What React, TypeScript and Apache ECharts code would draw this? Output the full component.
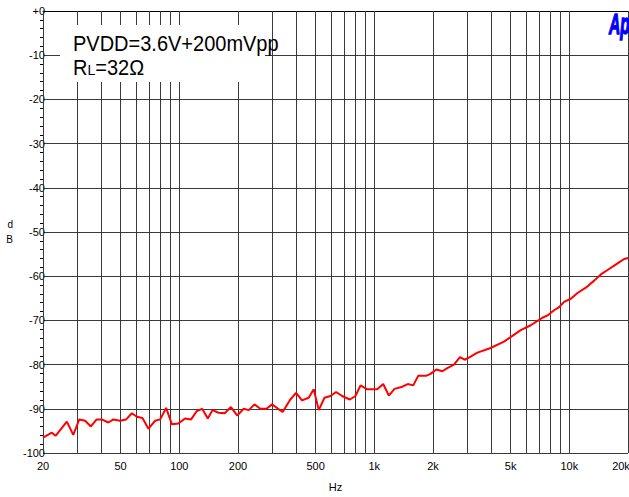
import React, { useEffect, useRef } from "react";
import * as echarts from "echarts";

const freqHz = [
  20, 22.2, 23.2, 26.5, 28.6, 30.7, 32.9, 35.2, 37.7, 40, 43.3, 45.9, 49.7, 53.4, 57.1, 60.6, 64.7, 69.5, 75.2, 79.8, 85.6, 91.6, 99.1,
  107, 115, 123, 131, 140, 148, 159, 171, 184, 198, 214, 227, 243, 260, 280, 299, 321, 339, 371, 397, 426, 461, 489, 519, 555, 596,
  637, 684, 749, 801, 850, 920, 1035, 1111, 1187, 1270, 1391, 1486, 1584, 1681, 1854, 1943, 2080, 2232, 2368, 2560, 2749, 2906, 3120,
  3378, 3920, 4625, 5110, 5636, 6342, 6998, 7286, 7784, 8356, 8864, 9404, 10178, 11020, 12156, 13412, 14515, 15712, 16988, 18386, 19120, 20000,
];
const levelDb = [
  -96.5, -95.4, -96.1, -92.9, -95.9, -92.4, -92.7, -94.0, -92.4, -92.4, -93.1, -92.4, -92.7, -92.4, -91.0, -91.8, -92.1, -94.5, -92.7, -92.4, -89.8, -93.5, -93.3,
  -92.2, -92.4, -90.5, -90.0, -92.2, -90.3, -90.9, -91.0, -89.6, -91.5, -90.0, -90.3, -89.0, -90.0, -90.0, -89.0, -90.0, -90.7, -87.9, -86.4, -88.1, -87.5, -85.6, -90.3, -87.5, -87.1,
  -86.2, -87.1, -87.9, -87.1, -84.7, -85.6, -85.6, -84.4, -87.0, -85.5, -85.0, -84.4, -84.7, -82.5, -82.5, -82.1, -81.1, -81.5, -80.8, -80.0, -78.3, -78.9, -78.2,
  -77.3, -76.3, -74.8, -73.5, -72.2, -71.1, -69.9, -69.4, -68.8, -67.7, -67.0, -65.8, -65.1, -63.8, -62.6, -61.0, -59.6, -58.6, -57.6, -56.6, -56.1, -55.9,
];
const gridFreqs = [
  20, 30, 40, 50, 60, 70, 80, 90, 100, 200, 300, 400, 500, 600, 700, 800, 900, 1000,
  2000, 3000, 4000, 5000, 6000, 7000, 8000, 9000, 10000, 20000,
];
const xTickValues = [20, 50, 100, 200, 500, 1000, 2000, 5000, 10000, 20000];
const xTickLabels = ["20", "50", "100", "200", "500", "1k", "2k", "5k", "10k", "20k"];
const legendLine1 = "PVDD=3.6V+200mVpp";
const legendLine2 = ["R", "L", "=32Ω"];

export default function App() {
  const ref = useRef<HTMLDivElement>(null);
  useEffect(() => {
    if (!ref.current) return;
    const chart = echarts.init(ref.current, null, { renderer: "svg" });
    const font = "'Liberation Sans', Arial, sans-serif";
    const lastFreq = gridFreqs[gridFreqs.length - 1];
    const markData = gridFreqs.map((f) => {
      const idx = xTickValues.indexOf(f);
      return {
        xAxis: f,
        label: idx >= 0
          ? {
              show: true,
              formatter: xTickLabels[idx],
              padding: f === lastFreq ? [0, 14, 0, 0] : 0,
            }
          : { show: false },
      };
    });
    chart.setOption({
      animation: false,
      backgroundColor: "#ffffff",
      textStyle: { fontFamily: font },
      grid: { left: 43, top: 11, right: 1, bottom: 40, containLabel: false },
      xAxis: {
        type: "log",
        logBase: 10,
        min: 20,
        max: 20000,
        name: "Hz",
        nameLocation: "middle",
        nameGap: 28,
        nameTextStyle: { fontSize: 11, color: "#000", fontFamily: font },
        axisLine: { show: true, lineStyle: { color: "#000", width: 1 } },
        axisTick: { show: false },
        axisLabel: { show: false },
        splitLine: { show: false },
        minorSplitLine: { show: false },
      },
      yAxis: {
        type: "value",
        min: -100,
        max: 0,
        interval: 10,
        name: "d\nB",
        nameLocation: "middle",
        nameRotate: 0,
        nameGap: 30,
        nameTextStyle: { fontSize: 10, color: "#000", lineHeight: 15, fontFamily: font },
        axisLine: { show: true, lineStyle: { color: "#000", width: 1 } },
        axisTick: { show: false },
        minorTick: { show: true, splitNumber: 5, length: 3, lineStyle: { color: "#000" } },
        axisLabel: {
          margin: -2,
          fontSize: 11,
          color: "#000",
          fontFamily: font,
          formatter: (v: number) => (v === 0 ? "+0" : String(v)),
        },
        splitLine: { show: true, lineStyle: { color: "#3a3a3a", width: 1 } },
      },
      series: [
        {
          type: "line",
          data: freqHz.map((f, i) => [f, levelDb[i]]),
          showSymbol: false,
          symbol: "none",
          lineStyle: { color: "#ff0000", width: 2 },
          z: 5,
          markLine: {
            silent: true,
            symbol: "none",
            animation: false,
            lineStyle: { color: "#3a3a3a", width: 1, type: "solid" },
            label: {
              position: "start",
              distance: 7,
              fontSize: 11,
              color: "#000",
              fontFamily: font,
            },
            emphasis: { disabled: true },
            data: markData,
          },
        },
      ],
      graphic: [
        {
          type: "rect",
          z: 100,
          shape: { x: 60, y: 25, width: 205, height: 57 },
          style: { fill: "#ffffff" },
        },
        {
          type: "text",
          z: 101,
          x: 73,
          y: 29.5,
          scaleY: 1.1,
          style: {
            text: `{a|${legendLine1}}\n{a|${legendLine2[0]}}{b|${legendLine2[1]}}{a|${legendLine2[2]}}`,
            fill: "#000",
            verticalAlign: "top",
            rich: {
              a: { fontSize: 20, lineHeight: 22, fontFamily: font, fill: "#000", verticalAlign: "bottom" },
              b: { fontSize: 14, lineHeight: 22, fontFamily: font, fill: "#000", verticalAlign: "bottom" },
            },
          },
        },
        {
          type: "text",
          z: 101,
          x: 609,
          y: 8,
          scaleX: 0.52,
          style: {
            text: "Ap",
            fill: "#0000ff",
            stroke: "#0000ff",
            lineWidth: 1.5,
            font: "italic bold 30px 'Liberation Sans', Arial, sans-serif",
            verticalAlign: "top",
          },
        },
      ],
    });
    return () => chart.dispose();
  }, []);
  return (
    <div
      ref={ref}
      style={{ position: "absolute", left: 0, top: 0, width: 629, height: 497 }}
    />
  );
}
